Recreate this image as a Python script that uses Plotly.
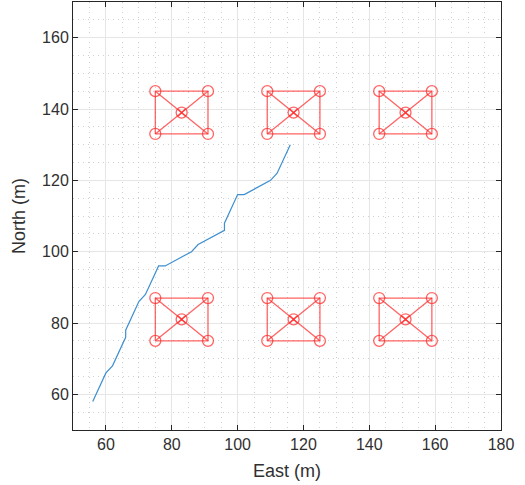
import plotly.graph_objects as go

# Flight path (East, North) in metres
path_east = [56, 60, 62, 66, 66, 70, 72, 76, 78, 86, 88, 96, 96, 100, 102, 110, 112, 116]
path_north = [58, 66, 68, 76, 78, 86, 88, 96, 96, 100, 102, 106, 108, 116, 116, 120, 122, 130]

# Cluster hub positions
hub_east = [83, 117, 151, 83, 117, 151]
hub_north = [139, 139, 139, 81, 81, 81]
# Corner node offsets relative to hub
corner_de = [-8, 8, 8, -8]
corner_dn = [-6, -6, 6, 6]

x_ticks = [60, 80, 100, 120, 140, 160, 180]
y_ticks = [60, 80, 100, 120, 140, 160]

RED = "rgba(255,40,40,0.72)"
BLUE = "#3d8fd1"
FONT = "Liberation Sans, Arial, sans-serif"

fig = go.Figure()

# cluster links: rectangle + diagonals
lx, ly = [], []
cx, cy = [], []
for he, hn in zip(hub_east, hub_north):
    xs = [he + d for d in corner_de]
    ys = [hn + d for d in corner_dn]
    lx += xs + [xs[0], None, xs[0], xs[2], None, xs[1], xs[3], None]
    ly += ys + [ys[0], None, ys[0], ys[2], None, ys[1], ys[3], None]
    cx += xs
    cy += ys

fig.add_trace(go.Scatter(x=lx, y=ly, mode="lines", line=dict(color=RED, width=1.3),
                         hoverinfo="skip", showlegend=False))
fig.add_trace(go.Scatter(x=cx, y=cy, mode="markers",
                         marker=dict(symbol="circle-open", size=11, color=RED, line=dict(width=1.3)),
                         showlegend=False))
fig.add_trace(go.Scatter(x=hub_east, y=hub_north, mode="markers",
                         marker=dict(symbol="circle-x-open", size=11, color=RED, line=dict(width=1.3)),
                         showlegend=False))
fig.add_trace(go.Scatter(x=path_east, y=path_north, mode="lines",
                         line=dict(color=BLUE, width=1.2), showlegend=False))

axis_common = dict(
    showline=True, linecolor="#262626", linewidth=1, mirror="ticks",
    ticks="inside", ticklen=5, tickcolor="#262626",
    showgrid=True, gridcolor="#e6e6e6", gridwidth=1,
    zeroline=False, automargin=False,
    tickfont=dict(family=FONT, size=16, color="#303030"),
    minor=dict(dtick=5, showgrid=True, gridcolor="#cfcfcf", griddash="1px,4px", gridwidth=1, ticks=""),
)

fig.update_layout(
    width=525, height=485,
    margin=dict(l=73, r=24, t=2, b=55),
    plot_bgcolor="white", paper_bgcolor="white",
    xaxis=dict(range=[50, 180], tickvals=x_ticks, title=dict(text="East (m)", standoff=12,
               font=dict(family=FONT, size=18, color="#303030")),
               **axis_common),
    yaxis=dict(range=[50, 170], tickvals=y_ticks, title=dict(text="North (m)", standoff=11,
               font=dict(family=FONT, size=18, color="#303030")),
               **axis_common),
)

fig.write_html("out.html", config={"displayModeBar": False},
               post_script="document.body.style.margin='0px';document.body.style.overflow='hidden';")
